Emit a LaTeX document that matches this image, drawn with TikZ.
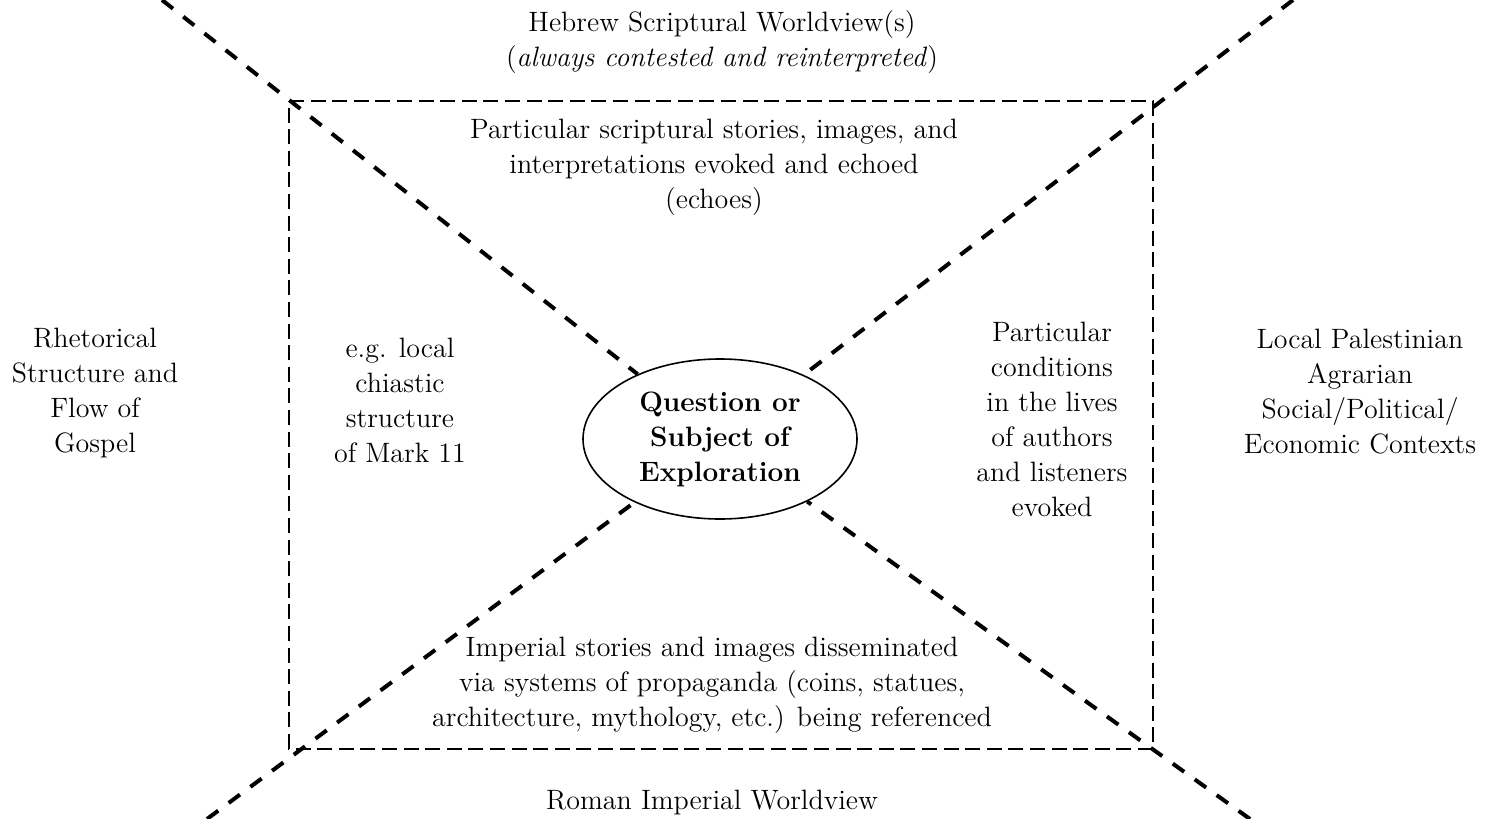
\documentclass[tikz,border=0pt]{standalone}
\usepackage{fontspec}
\usetikzlibrary{shapes.geometric}
\begin{document}
\begin{tikzpicture}[x=0.5pt,y=-0.5pt,
  txt/.style={align=center,inner sep=0pt,font=\fontsize{14}{17.5}\selectfont},
  spoke/.style={line width=2pt,dash pattern=on 7pt off 6.5pt},
  frame/.style={line width=1pt,dash pattern=on 7.5pt off 3.3pt}]
\useasboundingbox (0,0) rectangle (1495,819);

\coordinate (A) at (289,101);
\coordinate (B) at (1153,101);
\coordinate (C) at (1153,749);
\coordinate (D) at (289,749);

\draw[frame] (A)--(B)--(C)--(D)--cycle;

\node[draw,ellipse,line width=0.8pt,inner sep=0pt,minimum width=137pt,minimum height=80pt,txt,font=\fontsize{14}{17.5}\selectfont\bfseries] (q) at (720,439) {Question or\\Subject of\\Exploration};

% spokes out of the middle
\coordinate (nw) at (162,0);
\coordinate (ne) at (1293,0);
\coordinate (sw) at (207,819);
\coordinate (se) at (1250,819);
\foreach \c in {nw,ne,sw,se}
  \draw[spoke] (\c) -- (q);

\node[txt] (heb) at (722,42) {Hebrew Scriptural Worldview(s)\\(\textit{always contested and reinterpreted})};
\node[txt] (echo) at (714,167) {Particular scriptural stories, images, and\\interpretations evoked and echoed\\(echoes)};
\node[txt] (rhet) at (95,393) {Rhetorical\\Structure and\\Flow of\\Gospel};
\node[txt] (chia) at (400,400) {e.g. local\\chiastic\\structure\\of Mark 11};
\node[txt] (cond) at (1052,419) {Particular\\conditions\\in the lives\\of authors\\and listeners\\evoked};
\node[txt] (local) at (1360,392) {Local Palestinian\\Agrarian\\Social/Political/\\Economic Contexts};
\node[txt] (imp) at (712,685) {Imperial stories and images disseminated\\via systems of propaganda (coins, statues,\\architecture, mythology, etc.) being referenced};
\node[txt] (rom) at (712,802) {Roman Imperial Worldview};
\end{tikzpicture}
\end{document}
